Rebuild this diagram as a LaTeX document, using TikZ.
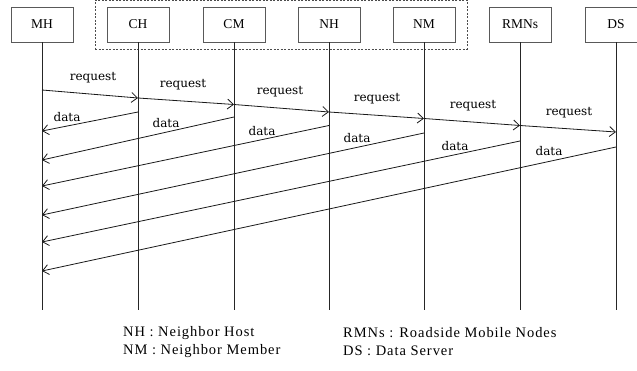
\documentclass[tikz,border=0pt]{standalone}
\usepackage{fontspec}
\setmainfont{Liberation Serif}
\newfontfamily\msgfont{DejaVu Serif}
\newfontfamily\legendfont[LetterSpace=6.5]{Liberation Serif}
\usetikzlibrary{arrows.meta,fit}
\begin{document}
\begin{tikzpicture}[x=1pt,y=-1pt,
  actor/.style={draw=black!65,line width=0.8pt,minimum width=62pt,minimum height=35pt,
    inner sep=0pt,font=\fontsize{13.5}{15}\selectfont},
  life/.style={line width=0.8pt,black!85},
  msg/.style={line width=0.8pt,black!90,-{Straight Barb[length=6pt,width=10pt]}},
  lbl/.style={inner sep=0pt,font=\msgfont\fontsize{12}{14}\selectfont},
  legend/.style={anchor=west,inner sep=0pt,font=\legendfont\fontsize{14.5}{16}\selectfont}]
\useasboundingbox (0,0) rectangle (637,371);

% participants
\foreach \n/\x in {MH/42,CH/138,CM/234,NH/329,NM/424,RMNs/520,DS/616}
  \node[actor] (\n) at (\x,24.5) {\n};

% cluster of nearby vehicles
\node[draw=black!70,dashed,dash pattern=on 2pt off 1.5pt,line width=0.6pt,
  inner xsep=11.5pt,inner ysep=6.5pt,fit=(CH)(NM)] (group) {};

% lifelines
\foreach \n in {MH,CH,CM,NH,NM,RMNs,DS}{
  \coordinate (\n end) at (\n |- 0,310);
  \draw[life] (\n.south) -- (\n end);
}

% forwarded requests
\foreach \a/\b/\ya/\yb/\lx/\ly [count=\i] in
  {MH/CH/90/98/93/78, CH/CM/98/104.5/183/85, CM/NH/104.5/112/280/92,
   NH/NM/112/118.5/377/99, NM/RMNs/118.5/125.5/473/106, RMNs/DS/125.5/132/569/113}{
  \coordinate (rqs\i) at (\a |- 0,\ya);
  \coordinate (rqe\i) at (\b |- 0,\yb);
  \draw[msg] (rqs\i) -- (rqe\i);
  \node[lbl] (rql\i) at (\lx,\ly) {request};
}

% data returned to the mobile host
\foreach \a/\ya/\yb/\lx/\ly [count=\i] in
  {CH/112/131/67/117, CM/117/160/166/123, NH/125.5/186/262/131,
   NM/133/215/357/138, RMNs/141/242/455/146, DS/147/271/549/151}{
  \coordinate (dts\i) at (\a |- 0,\ya);
  \coordinate (dte\i) at (MH |- 0,\yb);
  \draw[msg] (dts\i) -- (dte\i);
  \node[lbl] (dtl\i) at (\lx,\ly) {data};
}

% legend
\node[legend] (lg1) at (123,333) {NH : Neighbor Host};
\node[legend] (lg2) at (123,351) {NM : Neighbor Member};
\node[legend] (lg3) at (343,333) {RMNs : Roadside Mobile Nodes};
\node[legend] (lg4) at (343,351) {DS : Data Server};
\end{tikzpicture}
\end{document}
